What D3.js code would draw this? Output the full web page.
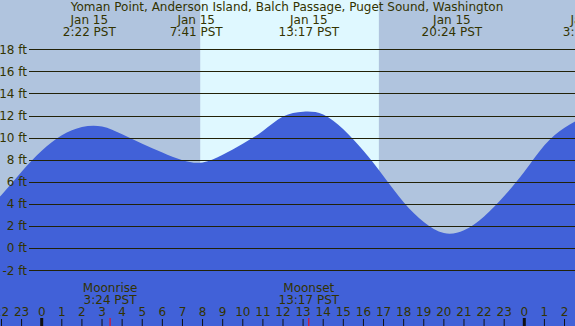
<!DOCTYPE html>
<html>
  <head>
    <meta charset="utf-8">
    <script src="https://cdn.jsdelivr.net/npm/d3@7/dist/d3.min.js"></script>
  </head>
  <body>
    <style>
      body{
        margin: 0;
        padding: 0;
        background-color: white;
      }
      svg text{
        font-family: "DejaVu Sans", sans-serif;
        fill: #333300;
      }
    </style>
    <div id="chart"></div>
    <script>
      // hours since midnight Jan 15 (PST), tide height in ft
      var hours = [-3, -2, -1, 0, 1, 2, 3, 4, 5, 6, 7, 8, 9, 10, 11, 12, 13, 14,
                   15, 16, 17, 18, 19, 20, 21, 22, 23, 24, 25, 26, 27];
      var heights = [2.9, 4.8, 6.9, 8.8, 10.2, 10.95, 11.0, 10.3, 9.45, 8.65, 7.95, 7.75, 8.45, 9.45,
                     10.6, 11.9, 12.35, 12.1, 10.75, 8.8, 6.5, 4.15, 2.35, 1.35, 1.6, 2.85,
                     4.7, 6.9, 9.3, 10.9, 11.9];

      var title = "Yoman Point, Anderson Island, Balch Passage, Puget Sound, Washington";
      var tideTimes = [2 + 22/60, 7 + 41/60, 13 + 17/60, 20 + 24/60, 24 + 3 + 14/60];
      var tideDates = ["Jan 15", "Jan 15", "Jan 15", "Jan 15", "Jan 16"];
      var tideLabels = ["2:22 PST", "7:41 PST", "13:17 PST", "20:24 PST", "3:14 PST"];
      var daylight = [7 + 53/60, 16 + 46/60];
      var moonTimes = [3 + 24/60, 13 + 17/60];
      var moonNames = ["Moonrise", "Moonset"];
      var moonLabels = ["3:24 PST", "13:17 PST"];
      var yTicks = [-2, 0, 2, 4, 6, 8, 10, 12, 14, 16, 18];

      var W = 575, H = 326;
      var svg = d3.select("#chart").append("svg")
        .attr("width", W).attr("height", H);

      var x = d3.scaleLinear().domain([0, 24]).range([41.7, 524.3]);
      var y = d3.scaleLinear().domain([-2, 18]).range([270, 49.3]);

      // night / day background
      svg.append("rect").attr("width", W).attr("height", H).attr("fill", "#b0c4de");
      svg.append("rect")
        .attr("x", x(daylight[0])).attr("y", 0)
        .attr("width", x(daylight[1]) - x(daylight[0])).attr("height", H)
        .attr("fill", "#dff8ff");

      // tide
      var pts = hours.map(function(h, i){ return [h, heights[i]]; });
      var area = d3.area()
        .x(function(d){ return x(d[0]); })
        .y0(H)
        .y1(function(d){ return y(d[1]); })
        .curve(d3.curveNatural);
      svg.append("path").datum(pts).attr("d", area).attr("fill", "#4161d8");

      // grid
      svg.selectAll("line.grid").data(yTicks).enter().append("line")
        .attr("class", "grid")
        .attr("x1", 29).attr("x2", W)
        .attr("y1", function(d){ return Math.round(y(d)) + 0.5; })
        .attr("y2", function(d){ return Math.round(y(d)) + 0.5; })
        .attr("stroke", "#222208").attr("stroke-width", 1.2);
      svg.selectAll("text.ylab").data(yTicks).enter().append("text")
        .attr("class", "ylab")
        .attr("x", 27).attr("y", function(d){ return y(d) + 4.5; })
        .attr("text-anchor", "end").attr("font-size", 12)
        .text(function(d){ return d + " ft"; });

      // title and tide times
      svg.append("text").attr("x", 287).attr("y", 11)
        .attr("text-anchor", "middle").attr("font-size", 12)
        .text(title);
      var tg = svg.selectAll("g.tide").data(tideTimes).enter().append("g")
        .attr("transform", function(d){ return "translate(" + x(d) + ",0)"; });
      tg.append("text").attr("y", 24).attr("text-anchor", "middle").attr("font-size", 12)
        .text(function(d, i){ return tideDates[i]; });
      tg.append("text").attr("y", 35.5).attr("text-anchor", "middle").attr("font-size", 12)
        .text(function(d, i){ return tideLabels[i]; });

      // moon
      var mg = svg.selectAll("g.moon").data(moonTimes).enter().append("g")
        .attr("transform", function(d){ return "translate(" + x(d) + ",0)"; });
      mg.append("text").attr("y", 292).attr("text-anchor", "middle").attr("font-size", 12)
        .text(function(d, i){ return moonNames[i]; });
      mg.append("text").attr("y", 304).attr("text-anchor", "middle").attr("font-size", 12)
        .text(function(d, i){ return moonLabels[i]; });
      mg.append("line")
        .attr("x1", 0).attr("x2", 0).attr("y1", 318).attr("y2", H)
        .attr("stroke", "red").attr("stroke-width", 1);

      // hour axis
      var hourTicks = d3.range(-2, 27);
      svg.selectAll("text.hr").data(hourTicks).enter().append("text")
        .attr("class", "hr")
        .attr("x", function(d){ return x(d); }).attr("y", 315.5)
        .attr("text-anchor", "middle").attr("font-size", 12)
        .text(function(d){ return (d + 24) % 24; });
      svg.selectAll("line.hr").data(hourTicks).enter().append("line")
        .attr("class", "hr")
        .attr("x1", function(d){ return x(d); }).attr("x2", function(d){ return x(d); })
        .attr("y1", function(d){ return d % 24 === 0 ? 318 : 319; }).attr("y2", H)
        .attr("stroke", "#111")
        .attr("stroke-width", function(d){ return d % 24 === 0 ? 3 : 1; });
    </script>
  </body>
</html>
